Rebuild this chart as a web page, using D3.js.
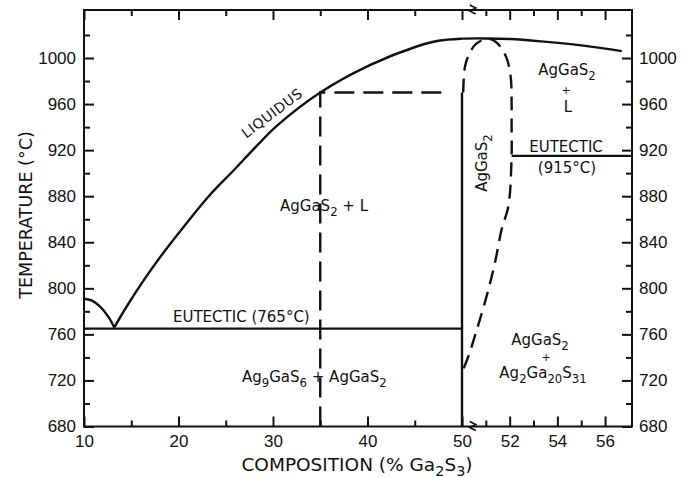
<!DOCTYPE html>
<meta charset="utf-8">
<style>
  body { margin: 0; background: #fff; }
  svg { display: block; font-family: "DejaVu Sans", sans-serif; }
  .axis text { font-size: 17px; fill: #111; }
  .axis line { stroke: #111; stroke-width: 2; }
  .note { font-size: 15px; fill: #111; }
</style>
<body>
<svg></svg>
<script src="https://cdn.jsdelivr.net/npm/d3@7"></script>
<script>

// phase boundaries, [composition %Ga2S3, temperature C]
var liquidus = [[13.2,766],[14.5,784],[16.4,808],[18.5,832],[20.6,854],[23.2,880],[25.9,903],
                [28.2,923],[30.4,941],[35,970],[40.3,994],[45.2,1010],[47.5,1015],[50,1016.8],
                [51,1017],[52,1016.5],[53.3,1014.5],[55,1011],[56.7,1006]];
var leftLiquidus = [[10,791],[10.8,789.5],[11.7,784],[12.6,775],[13.2,766]];
var solidusLoop = [[50.05,970],[50.13,993],[50.34,1005],[50.6,1012.5],[51.1,1016.8],[51.45,1013.5],
                   [51.85,1001],[52.04,984],[52.08,964],[52.08,940],[52.08,915],[51.95,872],
                   [51.66,851],[51.38,822],[51.03,793],[50.62,764],[50.27,741],[50,727]];
var eutectic765 = [[10,765],[50,765]];
var eutectic915 = [[52.08,915],[57.13,915]];
var compoundLine = [[50,970],[50,680]];
var dashedBox = [[35,680],[35,970],[48.5,970]];

// ticks
var xMajor = [10,20,30,40,50,52,54,56];
var xMinor = [15,25,35,45,51,53,55];
var yMajor = [680,720,760,800,840,880,920,960,1000];
var yMinor = [700,740,780,820,860,900,940,980,1020];

var width = 694, height = 478;
var svg = d3.select("svg").attr("width", width).attr("height", height);

// broken x axis: 10-50 compressed, 50-57 expanded
var x = d3.scaleLinear().domain([10, 50, 57.13]).range([84, 462, 632]);
var y = d3.scaleLinear().domain([680, 1041.7]).range([426.5, 10]);

// AXES ------------------------------------------------
function axis(gen, tf, vals, size, labels, pad)
{
	var g = svg.append("g").attr("class", "axis").attr("transform", tf)
		.call(gen.tickValues(vals).tickSize(-size).tickPadding(pad || 8)
		.tickFormat(labels ? (d => d) : ""));
	g.select(".domain").remove();
	return g;
}
var bottomT = "translate(0," + y(680) + ")", topT = "translate(0," + y(1041.7) + ")";
var leftT = "translate(" + x(10) + ",0)", rightT = "translate(" + x(57.13) + ",0)";

axis(d3.axisBottom(x), bottomT, xMajor, 10, true, 8);
axis(d3.axisBottom(x), bottomT, xMinor, 6, false);
axis(d3.axisTop(x), topT, xMajor, 10, false);
axis(d3.axisTop(x), topT, xMinor, 6, false);
axis(d3.axisLeft(y), leftT, yMajor, 10, true, 8);
axis(d3.axisLeft(y), leftT, yMinor, 6, false);
axis(d3.axisRight(y), rightT, yMajor, 10, true, 7);
axis(d3.axisRight(y), rightT, yMinor, 6, false);

svg.append("rect")
	.attr("x", x(10)).attr("y", y(1041.7))
	.attr("width", x(57.13) - x(10)).attr("height", y(680) - y(1041.7))
	.attr("fill", "none").attr("stroke", "#111").attr("stroke-width", 2);

// axis break marks
[y(1041.7), y(680)].forEach(function(yy) {
	svg.append("path")
		.attr("transform", "translate(" + x(50.45) + "," + yy + ")")
		.attr("d", "M-3,-5 L3,-2 L-3,1 L3,4")
		.attr("fill", "none").attr("stroke", "#111").attr("stroke-width", 1.6);
});

// CURVES ----------------------------------------------
var smooth = d3.line().x(d => x(d[0])).y(d => y(d[1])).curve(d3.curveCatmullRom.alpha(0.5));
var straight = d3.line().x(d => x(d[0])).y(d => y(d[1]));

function draw(data, gen, dash)
{
	svg.append("path").attr("d", gen(data))
		.attr("fill", "none").attr("stroke", "#111").attr("stroke-width", 2.4)
		.attr("stroke-dasharray", dash || null);
}
draw(liquidus, smooth);
draw(leftLiquidus, smooth);
draw(solidusLoop, smooth, "14,8");
draw(eutectic765, straight);
draw(eutectic915, straight);
draw(compoundLine, straight);
draw(dashedBox, straight, "20,9");

// LABELS ----------------------------------------------
// "_n" marks a subscript
function label(str, px, py, anchor, rot, cls)
{
	var t = svg.append("text").attr("class", cls || "note")
		.attr("text-anchor", anchor || "start")
		.attr("transform", "translate(" + px + "," + py + ")" + (rot ? " rotate(" + rot + ")" : ""));
	var down = false;
	str.split(/(_\d+)/).forEach(function(part) {
		if (!part) return;
		if (part[0] == "_") {
			t.append("tspan").attr("dy", down ? 0 : 5).attr("font-size", "0.78em").text(part.slice(1));
			down = true;
		} else {
			t.append("tspan").attr("dy", down ? -5 : 0).text(part);
			down = false;
		}
	});
	return t;
}

label("LIQUIDUS", 275, 117, "middle", -37).attr("letter-spacing", 0.6).style("font-size", "14px");
label("AgGaS_2 + L", 280, 211);
label("EUTECTIC (765\u00b0C)", 173, 322);
label("Ag_9GaS_6 + AgGaS_2", 242, 382);
label("AgGaS_2", 487, 163, "middle", -90);
label("AgGaS_2", 567, 75, "middle");
label("+", 566, 94, "middle").style("font-size", "11px");
label("L", 568, 112, "middle");
label("EUTECTIC", 566, 152, "middle");
label("(915\u00b0C)", 567, 173, "middle");
label("AgGaS_2", 540, 345, "middle");
label("+", 546, 361, "middle").style("font-size", "11px");
label("Ag_2Ga_20S_31", 543, 378, "middle");

// axis titles
label("COMPOSITION (% Ga_2S_3)", 357, 471, "middle", 0).style("font-size", "18.5px");
label("TEMPERATURE (\u00b0C)", 32, 215, "middle", -90).style("font-size", "17.5px");

</script>
</body>
</html>
